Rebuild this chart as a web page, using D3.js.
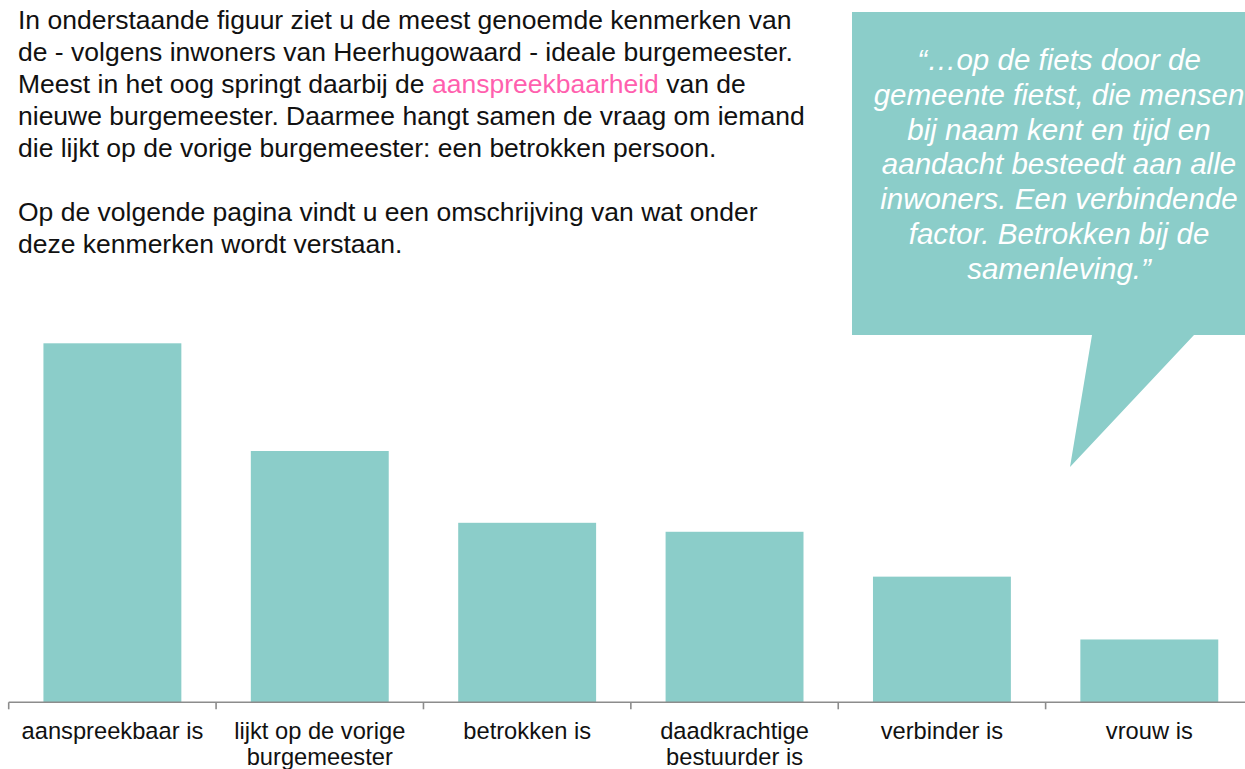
<!DOCTYPE html>
<html>
<head>
<meta charset="utf-8">
<script src="https://cdn.jsdelivr.net/npm/d3@7"></script>
<style>
  body { margin: 0; background: #fff; overflow: hidden; }
  svg text { font-family: "Liberation Sans", Arial, sans-serif; }
</style>
</head>
<body>
<svg class="chart" width="1245" height="769"></svg>
<script>
// kenmerken van de ideale burgemeester
let categories = ["aanspreekbaar is", "lijkt op de vorige\nburgemeester", "betrokken is",
                  "daadkrachtige\nbestuurder is", "verbinder is", "vrouw is"];
let values = [40, 28, 20, 19, 14, 7];

let introLines = [
    ["In onderstaande figuur ziet u de meest genoemde kenmerken van"],
    ["de - volgens inwoners van Heerhugowaard - ideale burgemeester."],
    ["Meest in het oog springt daarbij de ", "aanspreekbaarheid", " van de"],
    ["nieuwe burgemeester. Daarmee hangt samen de vraag om iemand"],
    ["die lijkt op de vorige burgemeester: een betrokken persoon."],
    [""],
    ["Op de volgende pagina vindt u een omschrijving van wat onder"],
    ["deze kenmerken wordt verstaan."]
];
let quoteLines = ["\u201C\u2026op de fiets door de", "gemeente fietst, die mensen", "bij naam kent en tijd en",
                  "aandacht besteedt aan alle", "inwoners. Een verbindende", "factor. Betrokken bij de",
                  "samenleving.\u201D"];

let teal = "#8bcdc9";
let pink = "#ff5fae";

var svg = d3.select(".chart");

// intro text
let intro = svg.append("g").attr("class", "intro");
introLines.forEach(function(parts, i) {
    let t = intro.append("text")
        .attr("x", 18)
        .attr("y", 29 + i * 32)
        .attr("font-size", 26.5)
        .attr("fill", "#111");
    parts.forEach(function(p, j) {
        t.append("tspan").attr("fill", j == 1 ? pink : "#111").text(p);
    });
});

// speech bubble
let bubble = svg.append("g").attr("class", "bubble");
let bubblePath = d3.path();
bubblePath.moveTo(852, 12);
bubblePath.lineTo(1260, 12);
bubblePath.lineTo(1260, 335);
bubblePath.lineTo(1194, 335);
bubblePath.lineTo(1070, 467);
bubblePath.lineTo(1092, 335);
bubblePath.lineTo(852, 335);
bubblePath.closePath();
bubble.append("path").attr("d", bubblePath.toString()).attr("fill", teal);

bubble.selectAll("text")
  .data(quoteLines)
  .enter().append("text")
    .attr("x", 1059)
    .attr("y", function(d, i) { return 70 + i * 34.8; })
    .attr("text-anchor", "middle")
    .attr("font-size", 29.5)
    .attr("font-style", "italic")
    .attr("fill", "#fff")
    .text(function(d) { return d; });

// bars
let baseY = 702.3;
let x = d3.scaleBand()
    .domain(categories)
    .range([8.7, 1253])
    .paddingInner(0.335)
    .paddingOuter(0.1675);
let y = d3.scaleLinear()
    .domain([0, 40])
    .range([baseY, 343.3]);

let g = svg.append("g").attr("class", "bars");
g.selectAll("rect")
  .data(categories)
  .enter().append("rect")
    .attr("x", function(d) { return x(d); })
    .attr("y", function(d, i) { return y(values[i]); })
    .attr("width", x.bandwidth())
    .attr("height", function(d, i) { return baseY - y(values[i]); })
    .attr("fill", teal);

// axis: line, ticks at band boundaries, labels
let ax = svg.append("g").attr("class", "axis");
let step = x.step();
let half = step * x.paddingInner() / 2;
ax.append("line")
    .attr("x1", 8.7).attr("x2", 1253)
    .attr("y1", baseY).attr("y2", baseY)
    .attr("stroke", "#8c8c8c").attr("stroke-width", 1.6);
ax.selectAll("line.tick")
  .data(categories)
  .enter().append("line")
    .attr("class", "tick")
    .attr("x1", function(d) { return x(d) - half; })
    .attr("x2", function(d) { return x(d) - half; })
    .attr("y1", baseY).attr("y2", baseY + 7)
    .attr("stroke", "#8c8c8c").attr("stroke-width", 1.6);

ax.selectAll("text")
  .data(categories)
  .enter().append("text")
    .attr("x", function(d) { return x(d) + x.bandwidth() / 2; })
    .attr("y", 738.5)
    .attr("text-anchor", "middle")
    .attr("font-size", 23.7)
    .attr("fill", "#111")
    .each(function(d) {
        let t = d3.select(this);
        d.split("\n").forEach(function(line, i) {
            t.append("tspan")
                .attr("x", x(d) + x.bandwidth() / 2)
                .attr("dy", i == 0 ? 0 : 26.5)
                .text(line);
        });
    });
</script>
</body>
</html>
